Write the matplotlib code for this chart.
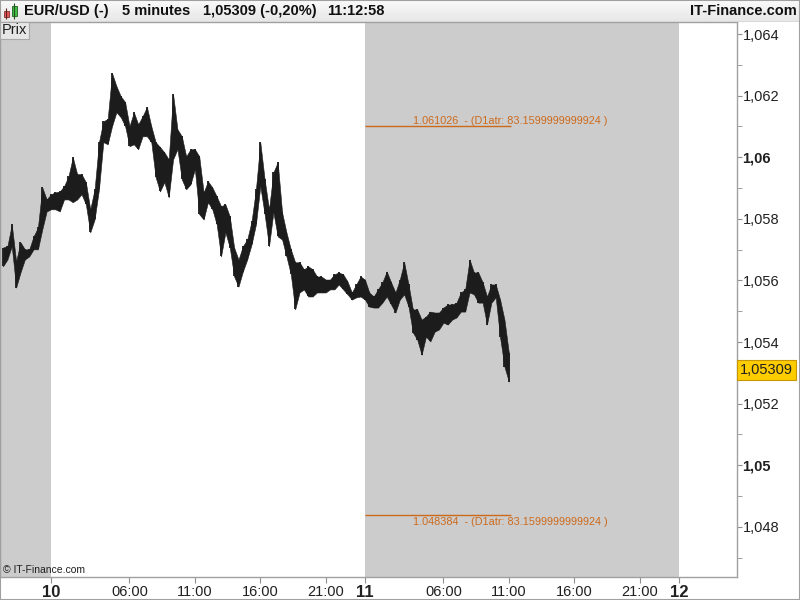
import numpy as np
import matplotlib.pyplot as plt
from matplotlib.patches import Rectangle
from matplotlib.transforms import blended_transform_factory

plt.rcParams['font.family'] = ['Liberation Sans', 'DejaVu Sans']

# EUR/USD, bars resampled to 20 minutes, time in hours from day 10 00:00
start_hour = -11 / 3
step_hours = 1 / 3
highs = [1.05707, 1.05711, 1.05782, 1.05662, 1.05724, 1.05701, 1.05701, 1.05743, 1.05772, 1.05902,
         1.05863, 1.05880, 1.05886, 1.05889, 1.05906, 1.05938, 1.06000, 1.05945, 1.05945, 1.05919,
         1.05831, 1.05896, 1.06049, 1.06117, 1.06124, 1.06273, 1.06231, 1.06198, 1.06179, 1.06101,
         1.06146, 1.06107, 1.06133, 1.06163, 1.06101, 1.06049, 1.06033, 1.06016, 1.05993, 1.06205,
         1.06091, 1.06068, 1.06003, 1.06026, 1.06026, 1.06003, 1.05886, 1.05922, 1.05902, 1.05873,
         1.05841, 1.05847, 1.05808, 1.05707, 1.05668, 1.05711, 1.05733, 1.05792, 1.05896, 1.06049,
         1.05928, 1.05831, 1.05951, 1.05984, 1.05821, 1.05756, 1.05701, 1.05659, 1.05659, 1.05636,
         1.05646, 1.05636, 1.05613, 1.05613, 1.05603, 1.05603, 1.05620, 1.05626, 1.05620, 1.05597,
         1.05561, 1.05587, 1.05613, 1.05603, 1.05561, 1.05548, 1.05571, 1.05594, 1.05629, 1.05594,
         1.05561, 1.05603, 1.05659, 1.05587, 1.05506, 1.05506, 1.05473, 1.05483, 1.05499, 1.05496,
         1.05496, 1.05512, 1.05522, 1.05522, 1.05528, 1.05561, 1.05571, 1.05668, 1.05626, 1.05626,
         1.05594, 1.05548, 1.05587, 1.05587, 1.05538, 1.05473, 1.05366]
lows = [1.05646, 1.05668, 1.05711, 1.05577, 1.05626, 1.05668, 1.05678, 1.05701, 1.05701, 1.05766,
        1.05824, 1.05831, 1.05831, 1.05824, 1.05863, 1.05863, 1.05854, 1.05863, 1.05880, 1.05847,
        1.05756, 1.05798, 1.05896, 1.06049, 1.06042, 1.06101, 1.06146, 1.06130, 1.06101, 1.06036,
        1.06042, 1.06026, 1.06068, 1.06068, 1.06049, 1.05935, 1.05889, 1.05919, 1.05870, 1.05993,
        1.06026, 1.05928, 1.05896, 1.05912, 1.05961, 1.05815, 1.05798, 1.05854, 1.05831, 1.05782,
        1.05678, 1.05756, 1.05707, 1.05613, 1.05580, 1.05629, 1.05668, 1.05717, 1.05782, 1.05906,
        1.05815, 1.05711, 1.05821, 1.05743, 1.05733, 1.05678, 1.05620, 1.05506, 1.05561, 1.05571,
        1.05548, 1.05548, 1.05561, 1.05561, 1.05561, 1.05571, 1.05571, 1.05587, 1.05571, 1.05555,
        1.05538, 1.05545, 1.05548, 1.05538, 1.05515, 1.05512, 1.05512, 1.05528, 1.05548, 1.05522,
        1.05496, 1.05538, 1.05555, 1.05515, 1.05431, 1.05408, 1.05359, 1.05418, 1.05402, 1.05434,
        1.05441, 1.05463, 1.05457, 1.05473, 1.05480, 1.05499, 1.05499, 1.05561, 1.05555, 1.05528,
        1.05528, 1.05457, 1.05528, 1.05545, 1.05415, 1.05320, 1.05272]
last_price = 1.05309
atr_high = 1.061026
atr_low = 1.048384
atr_note = "  - (D1atr: 83.1599999999924 )"

day_ticks = [0, 24, 48]
day_labels = ['10', '11', '12']
hour_ticks = [6, 11, 16, 21, 30, 35, 40, 45]
hour_labels = ['06:00', '11:00', '16:00', '21:00', '06:00', '11:00', '16:00', '21:00']
price_ticks = [1.048, 1.050, 1.052, 1.054, 1.056, 1.058, 1.060, 1.062, 1.064]
minor_ticks = [1.047, 1.049, 1.051, 1.053, 1.055, 1.057, 1.059, 1.061, 1.063]

W, H = 800, 600
fig = plt.figure(figsize=(8, 6), dpi=100)
fig.patch.set_facecolor('white')

# price panel
ax = fig.add_axes([0, 1 - 577 / H, 737 / W, 555 / H])
ax.set_facecolor('white')
ax.axvspan(-10, 0, color='#cccccc', lw=0)
ax.axvspan(24, 48, color='#cccccc', lw=0)

t = start_hour + step_hours * np.arange(len(highs))
ax.fill_between(t, lows, highs, color='#1c1c1c', lw=0.4)
ax.vlines(t, lows, highs, color='#1c1c1c', lw=1.3)

# ATR bands
orange = '#cc6a1c'
t_end = t[-1] + step_hours / 2
ax.hlines([atr_high, atr_low], 24, t_end, color=orange, lw=1)
ax.annotate(f"{atr_high:.6f}{atr_note}", (27.7, atr_high), xytext=(0, 0),
            textcoords='offset points', va='bottom', ha='left', fontsize=7.8, color=orange)
ax.annotate(f"{atr_low:.6f}{atr_note}", (27.7, atr_low), xytext=(0, -1.5),
            textcoords='offset points', va='top', ha='left', fontsize=7.8, color=orange)

ax.set_xlim(-51 / 13.08, (737 - 51) / 13.08)
ax.set_ylim(1.064 - 542 / 30750, 1.064 + 12 / 30750)

# right price axis
ax.yaxis.tick_right()
ax.set_yticks(price_ticks)
ylabels = []
for v in price_ticks:
    s = f"{v:.3f}".rstrip('0').replace('.', ',')
    ylabels.append(s)
ax.set_yticklabels(ylabels)
for lab, s in zip(ax.get_yticklabels(), ylabels):
    if len(s) < 5:
        lab.set_fontweight('bold')
        lab.set_fontsize(12)
ax.set_yticks(minor_ticks, minor=True)
ax.tick_params(axis='y', which='both', direction='out', length=3.5, color='#909090',
               labelsize=10.5, pad=0.5, labelcolor='#202020')

# bottom time axis
ax.set_xticks(day_ticks + hour_ticks)
ax.set_xticklabels(day_labels + hour_labels)
for lab in ax.get_xticklabels():
    if lab.get_text() in day_labels:
        lab.set_fontweight('bold')
        lab.set_fontsize(12)
    else:
        lab.set_fontsize(10.5)
ax.tick_params(axis='x', direction='out', length=4, color='#909090', pad=2, labelcolor='#202020')

for sp in ax.spines.values():
    sp.set_color('#a0a0a0')
    sp.set_linewidth(1)

# last price marker
tr = blended_transform_factory(ax.transAxes, ax.transData)
ax.text(1.004, last_price, f"{last_price:.5f}".replace('.', ','), transform=tr,
        ha='left', va='center', fontsize=10.5, color='#202020',
        bbox=dict(boxstyle='square,pad=0.22', facecolor='#ffcc00', edgecolor='#c89600', lw=0.8),
        clip_on=False)

ax.text(0.004, 0.013, '\u00a9 IT-Finance.com', transform=ax.transAxes,
        fontsize=7.5, va='center', ha='left', color='#202020')

# header bar
tax = fig.add_axes([0, 1 - 22 / H, 1, 22 / H])
grad = np.linspace(0.98, 0.90, 32).reshape(-1, 1)
tax.imshow(grad, cmap='gray', vmin=0, vmax=1, aspect='auto', extent=(0, W, 22, 0))
tax.set_xlim(0, W)
tax.set_ylim(22, 0)
tax.set_xticks([])
tax.set_yticks([])
for sp in tax.spines.values():
    sp.set_visible(False)
tax.axhline(21.5, color='#a0a0a0', lw=1)

# little candle icon
tax.vlines(6, 8, 19, color='#602020', lw=0.8)
tax.add_patch(Rectangle((3.5, 11), 5.5, 6, facecolor='#e85555', edgecolor='#803030', lw=0.6))
tax.vlines(14, 3, 19, color='#205020', lw=0.8)
tax.add_patch(Rectangle((11.5, 6), 5, 10, facecolor='#44c044', edgecolor='#206020', lw=0.6))

hdr = dict(fontsize=10.5, fontweight='bold', va='center', color='#101010')
tax.text(24, 11, 'EUR/USD (-)', **hdr)
tax.text(122, 11, '5 minutes', **hdr)
tax.text(203, 11, '1,05309 (-0,20%)', **hdr)
tax.text(327, 11, '11:12:58', **hdr)
tax.text(797, 11, 'IT-Finance.com', ha='right', **hdr)

# "Prix" tag
fig.text(2 / W, 1 - 30.5 / H, 'Prix', fontsize=10.5, va='center', ha='left', color='#202020',
         bbox=dict(boxstyle='square,pad=0.12', facecolor='#e6e6e6', edgecolor='#a8a8a8', lw=0.8))

fig.patches.append(Rectangle((0, 0), 1, 1, transform=fig.transFigure, fill=False,
                             edgecolor='#a0a0a0', lw=1.5))

fig.savefig('out.png', dpi=100)
